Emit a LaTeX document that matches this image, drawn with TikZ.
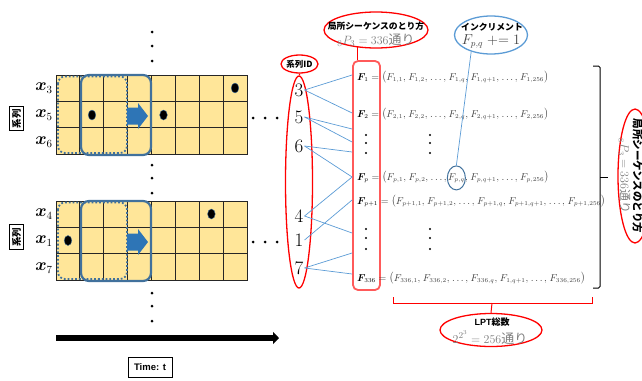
\documentclass[tikz,border=0pt]{standalone}
\usepackage{amsmath}
\usepackage{fontspec}
\newfontfamily\jp{Noto Sans CJK JP}
\newfontfamily\arialfont{Liberation Sans}
\usetikzlibrary{shapes.geometric,arrows.meta}
\DeclareMathSizes{10.2}{10.2}{6.1}{5}
\definecolor{cellfill}{HTML}{FFE699}
\definecolor{winblue}{HTML}{41719C}
\definecolor{arrowblue}{HTML}{2E75B6}
\definecolor{linkblue}{HTML}{5B9BD5}
\definecolor{markred}{HTML}{FF0000}
\definecolor{rectred}{HTML}{FF5A5A}
\definecolor{subgray}{HTML}{7F7F7F}
\definecolor{eqgray}{HTML}{404040}
% tight comma for the sequence lists
\newcommand{\sq}{,\mkern1.5mu}
% bold sequence name in black
\newcommand{\seqname}[1]{{\color{black}\boldsymbol{F}_{\!#1}}}
\tikzset{
  gridline/.style={draw=black!85, line width=0.8pt},
  slidewin/.style={draw=winblue, line width=2.2pt, rounded corners=8pt},
  slidedot/.style={draw=winblue, line width=1.8pt, dotted, rounded corners=7pt},
  eventdot/.style={fill=black, draw=winblue, line width=0.4pt},
  bigdot/.style={fill=black},
  link/.style={draw=linkblue, line width=0.7pt},
  redoval/.style={draw=markred, line width=1.3pt, ellipse, inner sep=0pt},
  idnum/.style={font=\fontsize{19}{19}\selectfont, inner sep=1pt},
  rowtext/.style={anchor=base west, inner sep=0pt, text=eqgray, font=\fontsize{10.2}{12}\selectfont},
  serieslab/.style={font=\fontsize{16}{16}\selectfont, inner sep=0pt},
  jpbold/.style={font=\jp\bfseries\fontsize{8.8}{10}\selectfont},
}
\begin{document}
\begin{tikzpicture}[x=1pt,y=-1pt]
\useasboundingbox (0,0) rectangle (642,380);

% two blocks of series over time
\foreach \ya/\yb in {75/154,201/280}{
  \fill[cellfill] (56,\ya) rectangle (247,\yb);
  \foreach \i in {1,...,7}
    \draw[gridline] ({56+\i*23.875},\ya) -- ({56+\i*23.875},\yb);
  \foreach \j in {1,2}
    \draw[gridline] (56,{\ya+\j*(\yb-\ya)/3}) -- (247,{\ya+\j*(\yb-\ya)/3});
  \draw[gridline] (56,\ya) rectangle (247,\yb);
  \draw[slidedot] (58,{\ya+1.5}) rectangle (127,{\yb-1});
  \draw[slidewin] (81,\ya) rectangle (151,{\yb+1});
  \fill[arrowblue] (127,{\ya+32.5}) -- (138,{\ya+32.5}) -- (138,{\ya+28}) -- (148,{\ya+41})
    -- (138,{\ya+54}) -- (138,{\ya+49.5}) -- (127,{\ya+49.5}) -- cycle;
}

% events in the cells
\foreach \px/\py in {235/88,92/115,163.5/115,211.4/214,68/240.5}
  \draw[eventdot] (\px,\py) ellipse (3.8pt and 5pt);

% series labels
\node[serieslab] (x3) at (44,88) {$\boldsymbol{x}_3$};
\node[serieslab] (x5) at (44,115) {$\boldsymbol{x}_5$};
\node[serieslab] (x6) at (44,142) {$\boldsymbol{x}_6$};
\node[serieslab] (x4) at (44,214) {$\boldsymbol{x}_4$};
\node[serieslab] (x1) at (44,241) {$\boldsymbol{x}_1$};
\node[serieslab] (x7) at (44,268) {$\boldsymbol{x}_7$};
\node[draw, line width=0.7pt, rotate=90, font=\jp\bfseries\fontsize{9.5}{9.5}\selectfont, inner sep=2.8pt] (grpA) at (16.5,118.5) {系列};
\node[draw, line width=0.7pt, rotate=90, font=\jp\bfseries\fontsize{9.5}{9.5}\selectfont, inner sep=2.8pt] (grpB) at (16.5,237) {系列};

% ellipsis dots
\foreach \py in {32,46,61,165,178,193,293,306,321}
  \fill[bigdot] (152,\py) circle (1.5pt);
\foreach \py in {118,242}
  \foreach \px in {253,265,277}
    \fill[bigdot] (\px,\py) circle (1.5pt);

% time axis
\draw[line width=6pt, -{Triangle[length=6pt,width=12pt]}] (56,338) -- (279,338);
\node[draw, line width=0.8pt, font=\arialfont\bfseries\fontsize{9.5}{10}\selectfont, minimum width=44pt, minimum height=20pt, inner sep=0pt] (time) at (150,367) {Time: t};

% series IDs
\node[redoval, minimum width=33pt, minimum height=18pt, font=\jp\bfseries\fontsize{8.5}{9}\selectfont] (idlab) at (299.5,64) {系列ID};
\node[redoval, minimum width=27pt, minimum height=212pt] (idoval) at (299,182) {};
\draw[markred, line width=1.2pt] (idlab) -- (idoval);
\node[idnum] (n3) at (299,90) {3};
\node[idnum] (n5) at (299,117) {5};
\node[idnum] (n6) at (299,146) {6};
\node[idnum] (n4) at (299,216) {4};
\node[idnum] (n1) at (299,240) {1};
\node[idnum] (n7) at (299,268) {7};

% sequence column
\node[draw=rectred, line width=1.8pt, rounded corners=5pt, minimum width=27pt, minimum height=229pt, inner sep=0pt] (frect) at (366.5,175.5) {};
\foreach \nm/\py in {fa/75,fb/113,fc/129,fd/142,fe/152,ff/177,fg/233,fh/200,fi/253,fj/274}
  \coordinate (\nm) at (frect.west |- 0,\py);
\draw[link] (n3.east) -- (fa);
\draw[link] (n3.east) -- (fb);
\draw[link] (n5.east) -- (fc);
\draw[link] (n5.east) -- (fd);
\draw[link] (n6.east) -- (fe);
\draw[link] (n6.east) -- (ff);
\draw[link] (n4.east) -- (ff);
\draw[link] (n4.east) -- (fg);
\draw[link] (n1.east) -- (fh);
\draw[link] (n7.east) -- (fi);
\draw[link] (n7.east) -- (fj);

% sequence rows
\node[rowtext] (r1) at (357,80) {$\seqname{1} = \bigl(F_{1,1}\sq F_{1,2}\sq \ldots\sq F_{1,q}\sq F_{1,q+1}\sq \ldots\sq F_{1,256}\bigr)$};
\node[rowtext] (r2) at (357,117) {$\seqname{2} = \bigl(F_{2,1}\sq F_{2,2}\sq \ldots\sq F_{2,q}\sq F_{2,q+1}\sq \ldots\sq F_{2,256}\bigr)$};
\node[rowtext] (rp) at (357,180) {$\seqname{p} = \bigl(F_{p,1}\sq F_{p,2}\sq \ldots,$};
\node[rowtext] (fpq) at ([xshift=0.8pt]rp.base east) {$F_{p,q}$};
\node[rowtext] (rpb) at (fpq.base east) {$\sq F_{p,q+1}\sq \ldots\sq F_{p,256}\bigr)$};
\node[rowtext] (rq) at (357,204) {$\seqname{p+1} = \bigl(F_{p+1,1}\sq F_{p+1,2}\sq \ldots\sq F_{p+1,q}\sq F_{p+1,q+1}\sq \ldots\sq F_{p+1,256}\bigr)$};
\node[rowtext] (rn) at (357,281) {$\seqname{336} = \bigl(F_{336,1}\sq F_{336,2}\sq \ldots\sq F_{336,q}\sq F_{1,q+1}\sq \ldots\sq F_{336,256}\bigr)$};
\foreach \py in {135,143,153,229,238,249}{
  \fill[bigdot] (366,\py) circle (1.2pt);
  \fill[bigdot] (430,\py) circle (1.2pt);
}
\node[draw=winblue, line width=1pt, ellipse, minimum width=18pt, minimum height=24pt, inner sep=0pt] (circ) at (fpq.center) {};

% increment note
\node[draw=linkblue, line width=1.3pt, ellipse, minimum width=73pt, minimum height=38pt, inner sep=0pt] (inc) at (491,35) {};
\node[jpbold, inner sep=0pt] (inctitle) at (492,27) {インクリメント};
\node[inner sep=0pt, text=eqgray, font=\fontsize{13.5}{14}\selectfont] (incexpr) at (491,41.5) {$F_{p,q} \mathrel{+}= 1$};
\draw[link] (inc.220) -- (circ.north);

% number of sequence orderings
\node[redoval, minimum width=104pt, minimum height=36pt] (seq) at (376,30) {};
\node[jpbold, inner sep=0pt] (seqtitle) at (376,26.5) {局所シーケンスのとり方};
\node[inner sep=0pt, text=subgray, font=\fontsize{13}{13}\selectfont] (seqexpr) at (376,40.5) {${}_{8}P_{3} = 336$\jp 通り};
\draw[markred, line width=1.2pt] (seq.223) -- (seq.223 |- frect.north);

% right bracket over all sequences
\draw[line width=1pt, rounded corners=1.5pt] (593,66) -- (600,66) -- (600,288) -- (593,288);
\coordinate (rbrk) at (600,177);
\draw[line width=1pt] (rbrk) -- +(8,0);
\node[redoval, minimum width=34pt, minimum height=134pt] (rseq) at (635,176) {};
\node[rotate=-90, inner sep=0pt, font=\jp\bfseries\fontsize{10.5}{11}\selectfont] (rseqtitle) at (637.5,176) {局所シーケンスのとり方};
\node[rotate=-90, inner sep=0pt, text=subgray, font=\fontsize{12}{12}\selectfont] (rseqexpr) at (624.5,176) {${}_{8}P_{3} = 336$\jp 通り};

% bottom bracket over all LPT positions
\draw[markred, line width=1pt] (393,297) -- (393,303) -- (592,303) -- (592,297);
\coordinate (bbrk) at (492,303);
\node[redoval, minimum width=102pt, minimum height=33pt] (lpt) at (491,330) {};
\draw[markred, line width=1pt] (bbrk) -- (lpt.north);
\node[inner sep=0pt, font=\fontsize{9}{10}\selectfont] (lpttitle) at (492,322.5) {\arialfont\bfseries LPT\jp 総数};
\node[inner sep=0pt, text=subgray, font=\fontsize{13}{13}\selectfont] (lptexpr) at (490,337.5) {$2^{2^3} = 256$\jp 通り};
\end{tikzpicture}
\end{document}
